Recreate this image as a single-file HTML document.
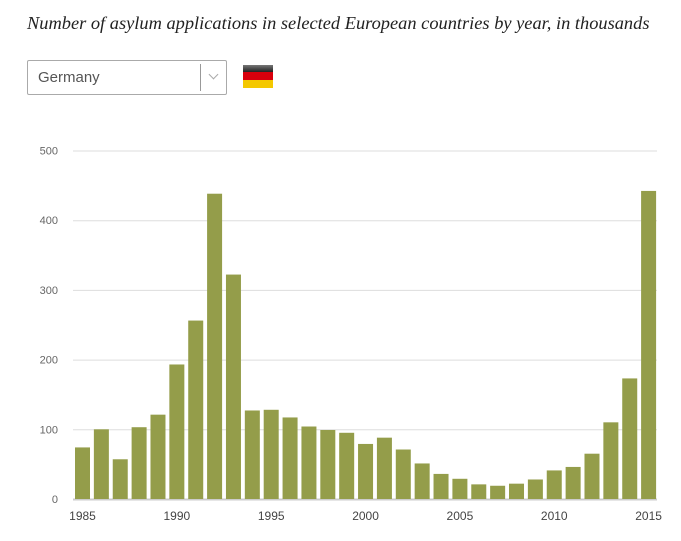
<!DOCTYPE html>
<html><head><meta charset="utf-8"><style>
body{margin:0;background:#fff;width:681px;height:541px;overflow:hidden;font-family:"Liberation Sans",sans-serif}
#title{position:absolute;left:27px;top:13px;font-family:"Liberation Serif",serif;font-style:italic;font-size:18.4px;color:#222;white-space:nowrap}
#sel{position:absolute;left:27px;top:60px;width:198px;height:33px;border:1px solid #aaa;border-radius:2px;box-sizing:content-box}
#sel span{position:absolute;left:10px;top:8px;font-size:15px;color:#555}
#sel .div{position:absolute;left:172px;top:3px;width:1px;height:27px;background:#999}
#sel .ch{position:absolute;left:182px;top:10px;width:6px;height:6px;border-right:1px solid #aaa;border-bottom:1px solid #aaa;transform:rotate(45deg)}
#flag{position:absolute;left:243px;top:65px;width:30px;height:23px}
svg{position:absolute;left:0;top:0}
</style></head><body>
<div id="title">Number of asylum applications in selected European countries by year, in thousands</div>
<div id="sel"><span>Germany</span><div class="div"></div><div class="ch"></div></div>
<div id="flag">
<div style="height:7px;background:linear-gradient(#777,#222)"></div><div style="height:8px;background:#d8000c"></div><div style="height:8px;background:#f4c800"></div></div>
<svg id="chart" width="681" height="541"></svg>
<script>
const years=[1985,1986,1987,1988,1989,1990,1991,1992,1993,1994,1995,1996,1997,1998,1999,2000,2001,2002,2003,2004,2005,2006,2007,2008,2009,2010,2011,2012,2013,2014,2015];
const values=[74,100,57,103,121,193,256,438,322,127,128,117,104,99,95,79,88,71,51,36,29,21,19,22,28,41,46,65,110,173,442];
const yTicks=[0,100,200,300,400,500];
const xTickLabels=[1985,1990,1995,2000,2005,2010,2015];
const svg=document.getElementById('chart');const NS='http://www.w3.org/2000/svg';
const y0=499,pxPer=0.697,x0=82.5,step=18.87,bw=15;
const y=v=>y0-v*pxPer, x=yr=>x0+(yr-years[0])*step;
function mk(t,a){const e=document.createElementNS(NS,t);for(const k in a)e.setAttribute(k,a[k]);svg.appendChild(e);return e;}
yTicks.forEach(t=>{
 const l=mk('line',{x1:73,x2:657,y1:y(t)+0.5,y2:y(t)+0.5,stroke:t===0?'#ccc':'#ddd','stroke-width':t===0?2:1});
 
 
 const tx=mk('text',{x:58,y:y(t)+4,'text-anchor':'end','font-size':11,fill:'#666','font-family':'Liberation Sans, sans-serif'});
 tx.textContent=t;
 
 
});
years.forEach((yr,i)=>{
 const r=mk('rect',{x:x(yr)-bw/2,y:y(values[i]),width:bw,height:values[i]*pxPer,fill:'#949d4a'});
 
 
});
xTickLabels.forEach(t=>{
 const tx=mk('text',{x:x(t),y:520,'text-anchor':'middle','font-size':12,fill:'#444','font-family':'Liberation Sans, sans-serif'});
 tx.textContent=t;
 
 
});
</script>
</body></html>
